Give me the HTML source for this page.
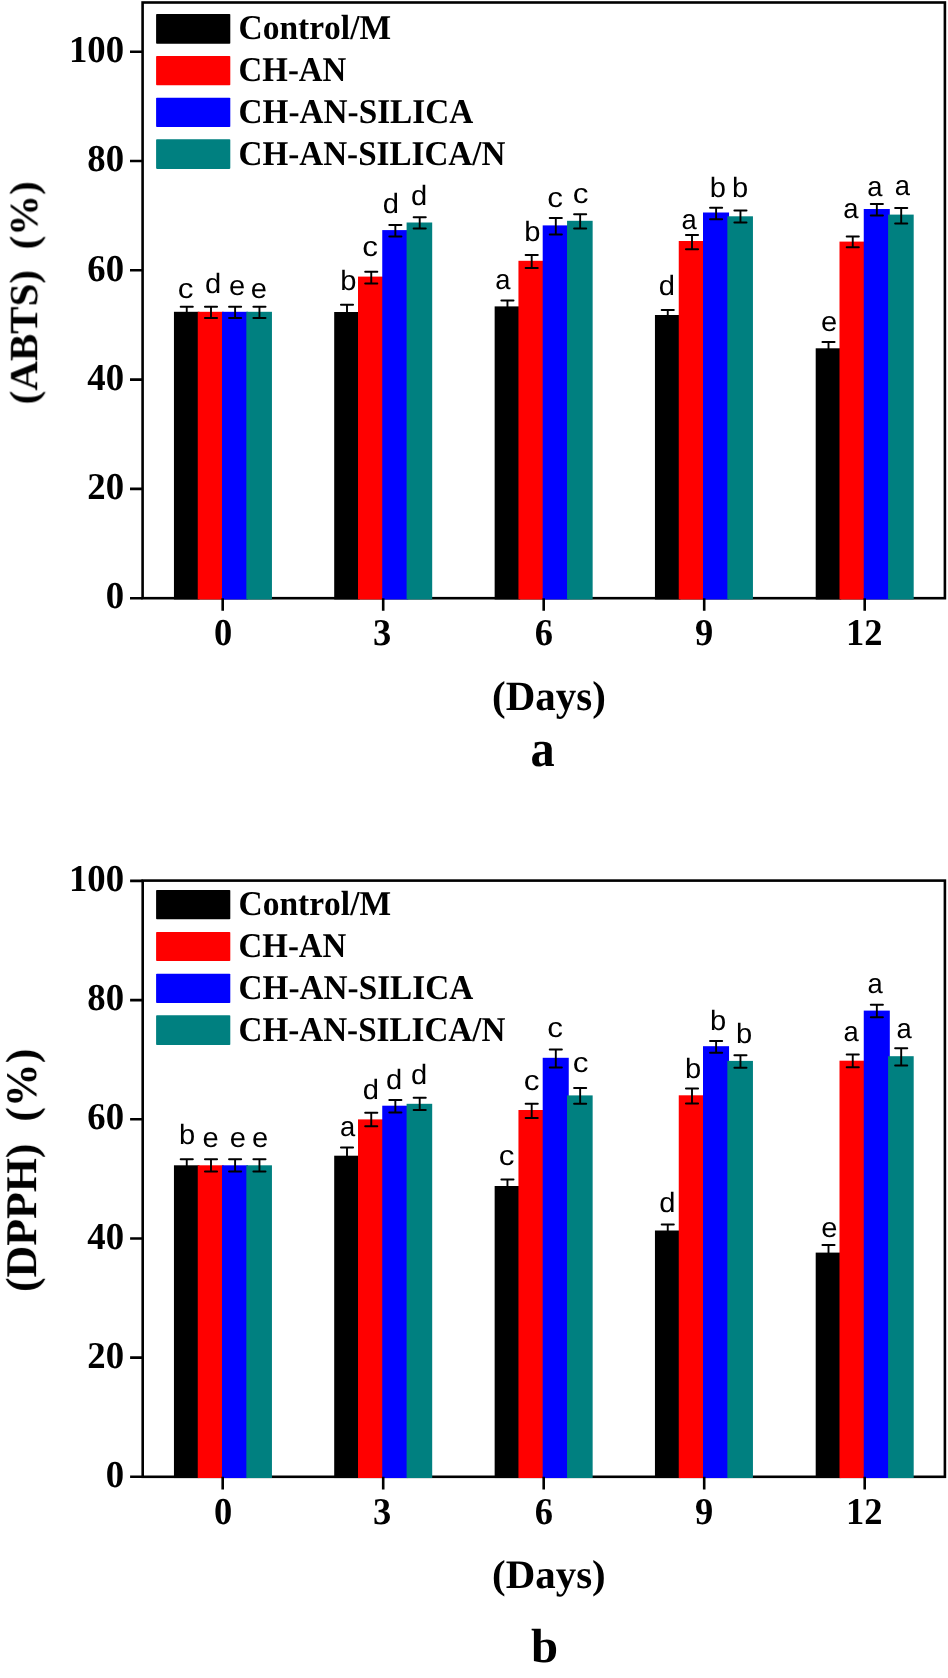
<!DOCTYPE html>
<html><head><meta charset="utf-8"><style>
html,body{margin:0;padding:0;background:#fff;overflow:hidden;width:948px;height:1678px;}
svg{display:block;}
text{font-kerning:none;text-rendering:geometricPrecision;}
svg text{filter:url(#gs);}
</style></head><body>
<svg width="948" height="1678" viewBox="0 0 948 1678">
<defs><filter id="gs" x="-20%" y="-20%" width="140%" height="140%"><feColorMatrix type="saturate" values="0"/></filter></defs>
<rect width="948" height="1678" fill="#fff"/>
<rect x="142.6" y="2.5" width="802.3" height="595.7" fill="none" stroke="#000" stroke-width="2.6"/>
<rect x="173.95" y="311.8" width="25.5" height="287.65" fill="#000000"/>
<rect x="197.75" y="311.8" width="25.95" height="287.65" fill="#ff0000"/>
<rect x="222" y="311.8" width="26.05" height="287.65" fill="#0000ff"/>
<rect x="246.35" y="311.8" width="25.6" height="287.65" fill="#008080"/>
<path d="M186.75 306.8V318" stroke="#000" stroke-width="1.9" fill="none"/>
<path d="M180.7 306.8H192.8M180.7 318H192.8" stroke="#000" stroke-width="2.0" stroke-linecap="round" fill="none"/>
<path d="M211 306.8V318" stroke="#000" stroke-width="1.9" fill="none"/>
<path d="M204.95 306.8H217.05M204.95 318H217.05" stroke="#000" stroke-width="2.0" stroke-linecap="round" fill="none"/>
<path d="M235.1 306.8V318" stroke="#000" stroke-width="1.9" fill="none"/>
<path d="M229.05 306.8H241.15M229.05 318H241.15" stroke="#000" stroke-width="2.0" stroke-linecap="round" fill="none"/>
<path d="M259.45 306.8V318" stroke="#000" stroke-width="1.9" fill="none"/>
<path d="M253.4 306.8H265.5M253.4 318H265.5" stroke="#000" stroke-width="2.0" stroke-linecap="round" fill="none"/>
<rect x="334.2" y="312" width="25.5" height="287.45" fill="#000000"/>
<rect x="358" y="276.6" width="25.95" height="322.85" fill="#ff0000"/>
<rect x="382.25" y="230.1" width="26.05" height="369.35" fill="#0000ff"/>
<rect x="406.6" y="222.5" width="25.6" height="376.95" fill="#008080"/>
<path d="M347 304.7V319.3" stroke="#000" stroke-width="1.9" fill="none"/>
<path d="M340.95 304.7H353.05M340.95 319.3H353.05" stroke="#000" stroke-width="2.0" stroke-linecap="round" fill="none"/>
<path d="M371.25 271.8V283.5" stroke="#000" stroke-width="1.9" fill="none"/>
<path d="M365.2 271.8H377.3M365.2 283.5H377.3" stroke="#000" stroke-width="2.0" stroke-linecap="round" fill="none"/>
<path d="M395.35 225V236.4" stroke="#000" stroke-width="1.9" fill="none"/>
<path d="M389.3 225H401.4M389.3 236.4H401.4" stroke="#000" stroke-width="2.0" stroke-linecap="round" fill="none"/>
<path d="M419.7 217.2V228.5" stroke="#000" stroke-width="1.9" fill="none"/>
<path d="M413.65 217.2H425.75M413.65 228.5H425.75" stroke="#000" stroke-width="2.0" stroke-linecap="round" fill="none"/>
<rect x="494.65" y="306.4" width="25.5" height="293.05" fill="#000000"/>
<rect x="518.45" y="260.8" width="25.95" height="338.65" fill="#ff0000"/>
<rect x="542.7" y="225.4" width="26.05" height="374.05" fill="#0000ff"/>
<rect x="567.05" y="220.8" width="25.6" height="378.65" fill="#008080"/>
<path d="M507.45 300.6V312.2" stroke="#000" stroke-width="1.9" fill="none"/>
<path d="M501.4 300.6H513.5M501.4 312.2H513.5" stroke="#000" stroke-width="2.0" stroke-linecap="round" fill="none"/>
<path d="M531.7 255V268" stroke="#000" stroke-width="1.9" fill="none"/>
<path d="M525.65 255H537.75M525.65 268H537.75" stroke="#000" stroke-width="2.0" stroke-linecap="round" fill="none"/>
<path d="M555.8 218V234.5" stroke="#000" stroke-width="1.9" fill="none"/>
<path d="M549.75 218H561.85M549.75 234.5H561.85" stroke="#000" stroke-width="2.0" stroke-linecap="round" fill="none"/>
<path d="M580.15 214.2V228.5" stroke="#000" stroke-width="1.9" fill="none"/>
<path d="M574.1 214.2H586.2M574.1 228.5H586.2" stroke="#000" stroke-width="2.0" stroke-linecap="round" fill="none"/>
<rect x="654.95" y="315" width="25.5" height="284.45" fill="#000000"/>
<rect x="678.75" y="241" width="25.95" height="358.45" fill="#ff0000"/>
<rect x="703" y="212.5" width="26.05" height="386.95" fill="#0000ff"/>
<rect x="727.35" y="216.3" width="25.6" height="383.15" fill="#008080"/>
<path d="M667.75 309.9V320.1" stroke="#000" stroke-width="1.9" fill="none"/>
<path d="M661.7 309.9H673.8M661.7 320.1H673.8" stroke="#000" stroke-width="2.0" stroke-linecap="round" fill="none"/>
<path d="M692 234.9V249.2" stroke="#000" stroke-width="1.9" fill="none"/>
<path d="M685.95 234.9H698.05M685.95 249.2H698.05" stroke="#000" stroke-width="2.0" stroke-linecap="round" fill="none"/>
<path d="M716.1 207.8V219.2" stroke="#000" stroke-width="1.9" fill="none"/>
<path d="M710.05 207.8H722.15M710.05 219.2H722.15" stroke="#000" stroke-width="2.0" stroke-linecap="round" fill="none"/>
<path d="M740.45 210.6V222.6" stroke="#000" stroke-width="1.9" fill="none"/>
<path d="M734.4 210.6H746.5M734.4 222.6H746.5" stroke="#000" stroke-width="2.0" stroke-linecap="round" fill="none"/>
<rect x="815.7" y="348.3" width="25.5" height="251.15" fill="#000000"/>
<rect x="839.5" y="241.6" width="25.95" height="357.85" fill="#ff0000"/>
<rect x="863.75" y="209" width="26.05" height="390.45" fill="#0000ff"/>
<rect x="888.1" y="214.6" width="25.6" height="384.85" fill="#008080"/>
<path d="M828.5 342V354.6" stroke="#000" stroke-width="1.9" fill="none"/>
<path d="M822.45 342H834.55M822.45 354.6H834.55" stroke="#000" stroke-width="2.0" stroke-linecap="round" fill="none"/>
<path d="M852.75 236.5V247.3" stroke="#000" stroke-width="1.9" fill="none"/>
<path d="M846.7 236.5H858.8M846.7 247.3H858.8" stroke="#000" stroke-width="2.0" stroke-linecap="round" fill="none"/>
<path d="M876.85 204V215.4" stroke="#000" stroke-width="1.9" fill="none"/>
<path d="M870.8 204H882.9M870.8 215.4H882.9" stroke="#000" stroke-width="2.0" stroke-linecap="round" fill="none"/>
<path d="M901.2 208V223.5" stroke="#000" stroke-width="1.9" fill="none"/>
<path d="M895.15 208H907.25M895.15 223.5H907.25" stroke="#000" stroke-width="2.0" stroke-linecap="round" fill="none"/>
<path d="M130 598.2H142.6M130 488.9H142.6M130 379.6H142.6M130 270.3H142.6M130 161H142.6M130 51.7H142.6M222.7 598.2V610.8M383.2 598.2V610.8M543.7 598.2V610.8M704.2 598.2V610.8M864.7 598.2V610.8" stroke="#000" stroke-width="2.6" fill="none"/>
<text transform="translate(105.72,608.42) scale(0.9700,1)" style="font-family:'Liberation Serif',serif;font-weight:bold;font-size:37.90px" fill="#000">0</text>
<text transform="translate(87.34,499.12) scale(0.9700,1)" style="font-family:'Liberation Serif',serif;font-weight:bold;font-size:37.90px" fill="#000">20</text>
<text transform="translate(87.34,389.82) scale(0.9700,1)" style="font-family:'Liberation Serif',serif;font-weight:bold;font-size:37.90px" fill="#000">40</text>
<text transform="translate(87.34,280.52) scale(0.9700,1)" style="font-family:'Liberation Serif',serif;font-weight:bold;font-size:37.90px" fill="#000">60</text>
<text transform="translate(87.34,171.22) scale(0.9700,1)" style="font-family:'Liberation Serif',serif;font-weight:bold;font-size:37.90px" fill="#000">80</text>
<text transform="translate(68.96,61.92) scale(0.9700,1)" style="font-family:'Liberation Serif',serif;font-weight:bold;font-size:37.90px" fill="#000">100</text>
<text transform="translate(213.93,644.9) scale(0.9650,1)" style="font-family:'Liberation Serif',serif;font-weight:bold;font-size:37.80px">0</text>
<text transform="translate(373.12,644.9) scale(0.9650,1)" style="font-family:'Liberation Serif',serif;font-weight:bold;font-size:37.80px">3</text>
<text transform="translate(534.74,644.9) scale(0.9650,1)" style="font-family:'Liberation Serif',serif;font-weight:bold;font-size:37.80px">6</text>
<text transform="translate(694.89,644.9) scale(0.9650,1)" style="font-family:'Liberation Serif',serif;font-weight:bold;font-size:37.80px">9</text>
<text transform="translate(846.03,644.9) scale(0.9650,1)" style="font-family:'Liberation Serif',serif;font-weight:bold;font-size:37.80px">12</text>
<rect x="156.1" y="13.9" width="74.2" height="29.8" rx="0.8" fill="#000000"/>
<text transform="translate(238.57,39.35) scale(0.9621,1)" style="font-family:&quot;Liberation Serif&quot;,serif;font-weight:bold;font-size:34.80px">Control/M</text>
<rect x="156.1" y="56" width="74.2" height="29.3" rx="0.8" fill="#ff0000"/>
<text transform="translate(238.59,81.1) scale(0.9446,1)" style="font-family:&quot;Liberation Serif&quot;,serif;font-weight:bold;font-size:34.80px">CH-AN</text>
<rect x="156.1" y="97.7" width="74.2" height="29.4" rx="0.8" fill="#0000ff"/>
<text transform="translate(238.58,122.9) scale(0.9557,1)" style="font-family:&quot;Liberation Serif&quot;,serif;font-weight:bold;font-size:34.80px">CH-AN-SILICA</text>
<rect x="156.1" y="139.3" width="74.2" height="29.6" rx="0.8" fill="#008080"/>
<text transform="translate(238.58,165) scale(0.9518,1)" style="font-family:&quot;Liberation Serif&quot;,serif;font-weight:bold;font-size:34.80px">CH-AN-SILICA/N</text>
<text transform="translate(177.63,297.83) scale(1.1232,1)" style="font-family:'Liberation Sans',sans-serif;font-size:28.00px">c</text>
<text transform="translate(204.88,293.03) scale(1.0400,1)" style="font-family:'Liberation Sans',sans-serif;font-size:28.00px">d</text>
<text transform="translate(228.93,295.13) scale(1.0400,1)" style="font-family:'Liberation Sans',sans-serif;font-size:28.00px">e</text>
<text transform="translate(250.68,297.83) scale(1.0400,1)" style="font-family:'Liberation Sans',sans-serif;font-size:28.00px">e</text>
<text transform="translate(340.28,289.93) scale(1.0400,1)" style="font-family:'Liberation Sans',sans-serif;font-size:28.00px">b</text>
<text transform="translate(362.13,255.73) scale(1.1232,1)" style="font-family:'Liberation Sans',sans-serif;font-size:28.00px">c</text>
<text transform="translate(382.78,212.73) scale(1.0400,1)" style="font-family:'Liberation Sans',sans-serif;font-size:28.00px">d</text>
<text transform="translate(410.88,205.13) scale(1.0400,1)" style="font-family:'Liberation Sans',sans-serif;font-size:28.00px">d</text>
<text transform="translate(495.26,289.33) scale(0.9776,1)" style="font-family:'Liberation Sans',sans-serif;font-size:28.00px">a</text>
<text transform="translate(524.18,241.23) scale(1.0400,1)" style="font-family:'Liberation Sans',sans-serif;font-size:28.00px">b</text>
<text transform="translate(547.33,207.03) scale(1.1232,1)" style="font-family:'Liberation Sans',sans-serif;font-size:28.00px">c</text>
<text transform="translate(572.63,203.23) scale(1.1232,1)" style="font-family:'Liberation Sans',sans-serif;font-size:28.00px">c</text>
<text transform="translate(658.73,295.13) scale(1.0400,1)" style="font-family:'Liberation Sans',sans-serif;font-size:28.00px">d</text>
<text transform="translate(681.46,228.63) scale(0.9776,1)" style="font-family:'Liberation Sans',sans-serif;font-size:28.00px">a</text>
<text transform="translate(709.83,197.03) scale(1.0400,1)" style="font-family:'Liberation Sans',sans-serif;font-size:28.00px">b</text>
<text transform="translate(732.03,197.03) scale(1.0400,1)" style="font-family:'Liberation Sans',sans-serif;font-size:28.00px">b</text>
<text transform="translate(820.93,330.53) scale(1.0400,1)" style="font-family:'Liberation Sans',sans-serif;font-size:28.00px">e</text>
<text transform="translate(843.36,217.63) scale(0.9776,1)" style="font-family:'Liberation Sans',sans-serif;font-size:28.00px">a</text>
<text transform="translate(867.26,196.33) scale(0.9776,1)" style="font-family:'Liberation Sans',sans-serif;font-size:28.00px">a</text>
<text transform="translate(894.66,194.83) scale(0.9776,1)" style="font-family:'Liberation Sans',sans-serif;font-size:28.00px">a</text>
<text transform="translate(492.1,709.92) scale(0.9812,1)" style="font-family:'Liberation Serif',serif;font-weight:bold;font-size:41.72px" fill="#000">(Days)</text>
<text transform="translate(530.54,766.19) scale(0.9345,1)" style="font-family:'Liberation Serif',serif;font-weight:bold;font-size:51.77px" fill="#000">a</text>
<text transform="translate(37.2,404.4) rotate(-90) scale(1,0.9750)" style="font-family:&quot;Liberation Serif&quot;,serif;font-weight:bold;font-size:41.00px;white-space:pre" xml:space="preserve">(ABTS)  (%)</text>
<rect x="142.7" y="880.6" width="802.2" height="596.2" fill="none" stroke="#000" stroke-width="2.6"/>
<rect x="173.95" y="1165.3" width="25.5" height="312.75" fill="#000000"/>
<rect x="197.75" y="1165.3" width="25.95" height="312.75" fill="#ff0000"/>
<rect x="222" y="1165.3" width="26.05" height="312.75" fill="#0000ff"/>
<rect x="246.35" y="1165.3" width="25.6" height="312.75" fill="#008080"/>
<path d="M186.75 1159.2V1171.5" stroke="#000" stroke-width="1.9" fill="none"/>
<path d="M180.7 1159.2H192.8M180.7 1171.5H192.8" stroke="#000" stroke-width="2.0" stroke-linecap="round" fill="none"/>
<path d="M211 1159.2V1171.5" stroke="#000" stroke-width="1.9" fill="none"/>
<path d="M204.95 1159.2H217.05M204.95 1171.5H217.05" stroke="#000" stroke-width="2.0" stroke-linecap="round" fill="none"/>
<path d="M235.1 1159.2V1171.5" stroke="#000" stroke-width="1.9" fill="none"/>
<path d="M229.05 1159.2H241.15M229.05 1171.5H241.15" stroke="#000" stroke-width="2.0" stroke-linecap="round" fill="none"/>
<path d="M259.45 1159.2V1171.5" stroke="#000" stroke-width="1.9" fill="none"/>
<path d="M253.4 1159.2H265.5M253.4 1171.5H265.5" stroke="#000" stroke-width="2.0" stroke-linecap="round" fill="none"/>
<rect x="334.2" y="1155.7" width="25.5" height="322.35" fill="#000000"/>
<rect x="358" y="1119.4" width="25.95" height="358.65" fill="#ff0000"/>
<rect x="382.25" y="1105.7" width="26.05" height="372.35" fill="#0000ff"/>
<rect x="406.6" y="1103.8" width="25.6" height="374.25" fill="#008080"/>
<path d="M347 1147.5V1163.9" stroke="#000" stroke-width="1.9" fill="none"/>
<path d="M340.95 1147.5H353.05M340.95 1163.9H353.05" stroke="#000" stroke-width="2.0" stroke-linecap="round" fill="none"/>
<path d="M371.25 1112.7V1126.3" stroke="#000" stroke-width="1.9" fill="none"/>
<path d="M365.2 1112.7H377.3M365.2 1126.3H377.3" stroke="#000" stroke-width="2.0" stroke-linecap="round" fill="none"/>
<path d="M395.35 1100V1112.4" stroke="#000" stroke-width="1.9" fill="none"/>
<path d="M389.3 1100H401.4M389.3 1112.4H401.4" stroke="#000" stroke-width="2.0" stroke-linecap="round" fill="none"/>
<path d="M419.7 1097.8V1109.9" stroke="#000" stroke-width="1.9" fill="none"/>
<path d="M413.65 1097.8H425.75M413.65 1109.9H425.75" stroke="#000" stroke-width="2.0" stroke-linecap="round" fill="none"/>
<rect x="494.65" y="1186" width="25.5" height="292.05" fill="#000000"/>
<rect x="518.45" y="1110" width="25.95" height="368.05" fill="#ff0000"/>
<rect x="542.7" y="1057.8" width="26.05" height="420.25" fill="#0000ff"/>
<rect x="567.05" y="1095.4" width="25.6" height="382.65" fill="#008080"/>
<path d="M507.45 1179.4V1192.6" stroke="#000" stroke-width="1.9" fill="none"/>
<path d="M501.4 1179.4H513.5M501.4 1192.6H513.5" stroke="#000" stroke-width="2.0" stroke-linecap="round" fill="none"/>
<path d="M531.7 1103.7V1118" stroke="#000" stroke-width="1.9" fill="none"/>
<path d="M525.65 1103.7H537.75M525.65 1118H537.75" stroke="#000" stroke-width="2.0" stroke-linecap="round" fill="none"/>
<path d="M555.8 1049.5V1067.6" stroke="#000" stroke-width="1.9" fill="none"/>
<path d="M549.75 1049.5H561.85M549.75 1067.6H561.85" stroke="#000" stroke-width="2.0" stroke-linecap="round" fill="none"/>
<path d="M580.15 1088.1V1103.7" stroke="#000" stroke-width="1.9" fill="none"/>
<path d="M574.1 1088.1H586.2M574.1 1103.7H586.2" stroke="#000" stroke-width="2.0" stroke-linecap="round" fill="none"/>
<rect x="654.95" y="1230.5" width="25.5" height="247.55" fill="#000000"/>
<rect x="678.75" y="1095.3" width="25.95" height="382.75" fill="#ff0000"/>
<rect x="703" y="1046.2" width="26.05" height="431.85" fill="#0000ff"/>
<rect x="727.35" y="1060.9" width="25.6" height="417.15" fill="#008080"/>
<path d="M667.75 1224.5V1236.5" stroke="#000" stroke-width="1.9" fill="none"/>
<path d="M661.7 1224.5H673.8M661.7 1236.5H673.8" stroke="#000" stroke-width="2.0" stroke-linecap="round" fill="none"/>
<path d="M692 1088.4V1103.6" stroke="#000" stroke-width="1.9" fill="none"/>
<path d="M685.95 1088.4H698.05M685.95 1103.6H698.05" stroke="#000" stroke-width="2.0" stroke-linecap="round" fill="none"/>
<path d="M716.1 1041.1V1052.7" stroke="#000" stroke-width="1.9" fill="none"/>
<path d="M710.05 1041.1H722.15M710.05 1052.7H722.15" stroke="#000" stroke-width="2.0" stroke-linecap="round" fill="none"/>
<path d="M740.45 1055.2V1067.8" stroke="#000" stroke-width="1.9" fill="none"/>
<path d="M734.4 1055.2H746.5M734.4 1067.8H746.5" stroke="#000" stroke-width="2.0" stroke-linecap="round" fill="none"/>
<rect x="815.7" y="1252.6" width="25.5" height="225.45" fill="#000000"/>
<rect x="839.5" y="1060.7" width="25.95" height="417.35" fill="#ff0000"/>
<rect x="863.75" y="1010.6" width="26.05" height="467.45" fill="#0000ff"/>
<rect x="888.1" y="1056.2" width="25.6" height="421.85" fill="#008080"/>
<path d="M828.5 1244.9V1260.3" stroke="#000" stroke-width="1.9" fill="none"/>
<path d="M822.45 1244.9H834.55M822.45 1260.3H834.55" stroke="#000" stroke-width="2.0" stroke-linecap="round" fill="none"/>
<path d="M852.75 1054.4V1067.3" stroke="#000" stroke-width="1.9" fill="none"/>
<path d="M846.7 1054.4H858.8M846.7 1067.3H858.8" stroke="#000" stroke-width="2.0" stroke-linecap="round" fill="none"/>
<path d="M876.85 1004.7V1017.2" stroke="#000" stroke-width="1.9" fill="none"/>
<path d="M870.8 1004.7H882.9M870.8 1017.2H882.9" stroke="#000" stroke-width="2.0" stroke-linecap="round" fill="none"/>
<path d="M901.2 1048.2V1065.5" stroke="#000" stroke-width="1.9" fill="none"/>
<path d="M895.15 1048.2H907.25M895.15 1065.5H907.25" stroke="#000" stroke-width="2.0" stroke-linecap="round" fill="none"/>
<path d="M130.1 1476.8H142.7M130.1 1357.62H142.7M130.1 1238.44H142.7M130.1 1119.26H142.7M130.1 1000.08H142.7M130.1 880.9H142.7M222.7 1476.8V1489.4M383.2 1476.8V1489.4M543.7 1476.8V1489.4M704.2 1476.8V1489.4M864.7 1476.8V1489.4" stroke="#000" stroke-width="2.6" fill="none"/>
<text transform="translate(105.72,1487.02) scale(0.9700,1)" style="font-family:'Liberation Serif',serif;font-weight:bold;font-size:37.90px" fill="#000">0</text>
<text transform="translate(87.34,1367.84) scale(0.9700,1)" style="font-family:'Liberation Serif',serif;font-weight:bold;font-size:37.90px" fill="#000">20</text>
<text transform="translate(87.34,1248.66) scale(0.9700,1)" style="font-family:'Liberation Serif',serif;font-weight:bold;font-size:37.90px" fill="#000">40</text>
<text transform="translate(87.34,1129.48) scale(0.9700,1)" style="font-family:'Liberation Serif',serif;font-weight:bold;font-size:37.90px" fill="#000">60</text>
<text transform="translate(87.34,1010.3) scale(0.9700,1)" style="font-family:'Liberation Serif',serif;font-weight:bold;font-size:37.90px" fill="#000">80</text>
<text transform="translate(68.96,891.12) scale(0.9700,1)" style="font-family:'Liberation Serif',serif;font-weight:bold;font-size:37.90px" fill="#000">100</text>
<text transform="translate(213.93,1523.9) scale(0.9650,1)" style="font-family:'Liberation Serif',serif;font-weight:bold;font-size:37.80px">0</text>
<text transform="translate(373.12,1523.9) scale(0.9650,1)" style="font-family:'Liberation Serif',serif;font-weight:bold;font-size:37.80px">3</text>
<text transform="translate(534.74,1523.9) scale(0.9650,1)" style="font-family:'Liberation Serif',serif;font-weight:bold;font-size:37.80px">6</text>
<text transform="translate(694.89,1523.9) scale(0.9650,1)" style="font-family:'Liberation Serif',serif;font-weight:bold;font-size:37.80px">9</text>
<text transform="translate(846.03,1523.9) scale(0.9650,1)" style="font-family:'Liberation Serif',serif;font-weight:bold;font-size:37.80px">12</text>
<rect x="156.1" y="889.9" width="74.2" height="29.3" rx="0.8" fill="#000000"/>
<text transform="translate(238.57,915.3) scale(0.9621,1)" style="font-family:&quot;Liberation Serif&quot;,serif;font-weight:bold;font-size:34.80px">Control/M</text>
<rect x="156.1" y="932" width="74.2" height="29.1" rx="0.8" fill="#ff0000"/>
<text transform="translate(238.59,957.1) scale(0.9446,1)" style="font-family:&quot;Liberation Serif&quot;,serif;font-weight:bold;font-size:34.80px">CH-AN</text>
<rect x="156.1" y="973.7" width="74.2" height="29.4" rx="0.8" fill="#0000ff"/>
<text transform="translate(238.58,999) scale(0.9557,1)" style="font-family:&quot;Liberation Serif&quot;,serif;font-weight:bold;font-size:34.80px">CH-AN-SILICA</text>
<rect x="156.1" y="1015.3" width="74.2" height="29.7" rx="0.8" fill="#008080"/>
<text transform="translate(238.58,1040.75) scale(0.9518,1)" style="font-family:&quot;Liberation Serif&quot;,serif;font-weight:bold;font-size:34.80px">CH-AN-SILICA/N</text>
<text transform="translate(178.88,1144.23) scale(1.0400,1)" style="font-family:'Liberation Sans',sans-serif;font-size:28.00px">b</text>
<text transform="translate(202.53,1147.33) scale(1.0400,1)" style="font-family:'Liberation Sans',sans-serif;font-size:28.00px">e</text>
<text transform="translate(229.63,1147.33) scale(1.0400,1)" style="font-family:'Liberation Sans',sans-serif;font-size:28.00px">e</text>
<text transform="translate(252.08,1147.33) scale(1.0400,1)" style="font-family:'Liberation Sans',sans-serif;font-size:28.00px">e</text>
<text transform="translate(339.96,1135.83) scale(0.9776,1)" style="font-family:'Liberation Sans',sans-serif;font-size:28.00px">a</text>
<text transform="translate(362.68,1098.83) scale(1.0400,1)" style="font-family:'Liberation Sans',sans-serif;font-size:28.00px">d</text>
<text transform="translate(385.88,1088.73) scale(1.0400,1)" style="font-family:'Liberation Sans',sans-serif;font-size:28.00px">d</text>
<text transform="translate(410.93,1083.93) scale(1.0400,1)" style="font-family:'Liberation Sans',sans-serif;font-size:28.00px">d</text>
<text transform="translate(498.73,1164.83) scale(1.1232,1)" style="font-family:'Liberation Sans',sans-serif;font-size:28.00px">c</text>
<text transform="translate(523.83,1090.13) scale(1.1232,1)" style="font-family:'Liberation Sans',sans-serif;font-size:28.00px">c</text>
<text transform="translate(547.33,1036.93) scale(1.1232,1)" style="font-family:'Liberation Sans',sans-serif;font-size:28.00px">c</text>
<text transform="translate(572.63,1071.73) scale(1.1232,1)" style="font-family:'Liberation Sans',sans-serif;font-size:28.00px">c</text>
<text transform="translate(659.18,1211.83) scale(1.0400,1)" style="font-family:'Liberation Sans',sans-serif;font-size:28.00px">d</text>
<text transform="translate(684.88,1078.03) scale(1.0400,1)" style="font-family:'Liberation Sans',sans-serif;font-size:28.00px">b</text>
<text transform="translate(710.08,1029.93) scale(1.0400,1)" style="font-family:'Liberation Sans',sans-serif;font-size:28.00px">b</text>
<text transform="translate(736.03,1042.83) scale(1.0400,1)" style="font-family:'Liberation Sans',sans-serif;font-size:28.00px">b</text>
<text transform="translate(821.33,1237.43) scale(1.0400,1)" style="font-family:'Liberation Sans',sans-serif;font-size:28.00px">e</text>
<text transform="translate(843.46,1040.73) scale(0.9776,1)" style="font-family:'Liberation Sans',sans-serif;font-size:28.00px">a</text>
<text transform="translate(867.46,993.03) scale(0.9776,1)" style="font-family:'Liberation Sans',sans-serif;font-size:28.00px">a</text>
<text transform="translate(896.56,1037.73) scale(0.9776,1)" style="font-family:'Liberation Sans',sans-serif;font-size:28.00px">a</text>
<text transform="translate(492.1,1588.02) scale(1.0145,1)" style="font-family:'Liberation Serif',serif;font-weight:bold;font-size:40.35px" fill="#000">(Days)</text>
<text transform="translate(530.98,1662.43) scale(1.0141,1)" style="font-family:'Liberation Serif',serif;font-weight:bold;font-size:48.04px" fill="#000">b</text>
<text transform="translate(36.1,1291.92) rotate(-90) scale(1,1.0000)" style="font-family:&quot;Liberation Serif&quot;,serif;font-weight:bold;font-size:43.80px;white-space:pre" xml:space="preserve">(DPPH)  (%)</text>
</svg>
</body></html>
